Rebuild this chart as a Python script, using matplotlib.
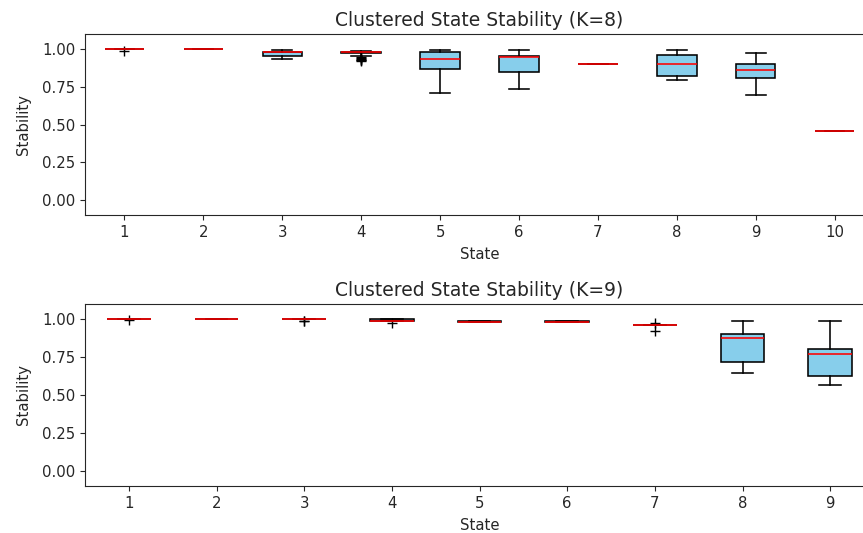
import matplotlib
matplotlib.use("Agg")
import matplotlib.pyplot as plt

# Per-state summary statistics of clustered state stability
states_k8 = [1, 2, 3, 4, 5, 6, 7, 8, 9, 10]
med_k8 = [1.00, 1.00, 0.982, 0.982, 0.932, 0.945, 0.90, 0.90, 0.86, 0.46]
q1_k8 = [1.00, 1.00, 0.954, 0.975, 0.870, 0.850, 0.90, 0.820, 0.806, 0.46]
q3_k8 = [1.00, 1.00, 0.982, 0.982, 0.982, 0.956, 0.90, 0.962, 0.900, 0.46]
lo_k8 = [1.00, 1.00, 0.934, 0.955, 0.707, 0.735, 0.90, 0.797, 0.695, 0.46]
hi_k8 = [1.00, 1.00, 0.993, 0.985, 0.993, 0.993, 0.90, 0.993, 0.971, 0.46]
fliers_k8 = [[0.99], [], [], [0.945, 0.94, 0.935, 0.93, 0.925, 0.92],
             [], [], [], [], [], []]

states_k9 = [1, 2, 3, 4, 5, 6, 7, 8, 9]
med_k9 = [1.00, 1.00, 1.00, 0.987, 0.982, 0.982, 0.96, 0.876, 0.773]
q1_k9 = [1.00, 1.00, 1.00, 0.985, 0.980, 0.980, 0.96, 0.718, 0.625]
q3_k9 = [1.00, 1.00, 1.00, 0.998, 0.985, 0.985, 0.96, 0.905, 0.800]
lo_k9 = [1.00, 1.00, 1.00, 0.985, 0.980, 0.980, 0.96, 0.647, 0.565]
hi_k9 = [1.00, 1.00, 1.00, 1.00, 0.985, 0.985, 0.96, 0.989, 0.989]
fliers_k9 = [[0.997], [], [0.99, 0.985], [0.975], [], [], [0.975, 0.92], [], []]

yticks = [0.00, 0.25, 0.50, 0.75, 1.00]


def build_stats(labels, med, q1, q3, lo, hi, fl):
    return [dict(label=str(s), med=m, q1=a, q3=b, whislo=w0, whishi=w1, fliers=f)
            for s, m, a, b, w0, w1, f in zip(labels, med, q1, q3, lo, hi, fl)]


plt.rcParams["text.color"] = "#262626"
plt.rcParams["axes.labelcolor"] = "#262626"
plt.rcParams["xtick.color"] = "#262626"
plt.rcParams["ytick.color"] = "#262626"
plt.rcParams["axes.edgecolor"] = "#262626"

fig = plt.figure(figsize=(8.63, 5.33), dpi=100)
ax_top = fig.add_axes([0.0985, 0.5966, 0.9143, 0.3396])
ax_bot = fig.add_axes([0.0985, 0.0882, 0.9143, 0.3415])

panels = [
    (ax_top, "Clustered State Stability (K=8)",
     build_stats(states_k8, med_k8, q1_k8, q3_k8, lo_k8, hi_k8, fliers_k8)),
    (ax_bot, "Clustered State Stability (K=9)",
     build_stats(states_k9, med_k9, q1_k9, q3_k9, lo_k9, hi_k9, fliers_k9)),
]

lw = 1.15
for ax, title, stats in panels:
    ax.bxp(stats, patch_artist=True, widths=0.5,
           boxprops=dict(facecolor="skyblue", edgecolor="black", linewidth=lw),
           medianprops=dict(color="red", linewidth=lw),
           whiskerprops=dict(color="black", linewidth=lw),
           capprops=dict(color="black", linewidth=lw),
           flierprops=dict(marker="+", markeredgecolor="black", markersize=7))
    ax.set_ylim(-0.1, 1.1)
    ax.set_yticks(yticks)
    ax.set_yticklabels([f"{t:.2f}" for t in yticks])
    ax.tick_params(labelsize=10.7)
    ax.set_title(title, fontsize=13.5)
    ax.set_xlabel("State", fontsize=10.7, labelpad=5)
    ax.set_ylabel("Stability", fontsize=10.7, labelpad=8)

fig.savefig("out.png", dpi=100)
